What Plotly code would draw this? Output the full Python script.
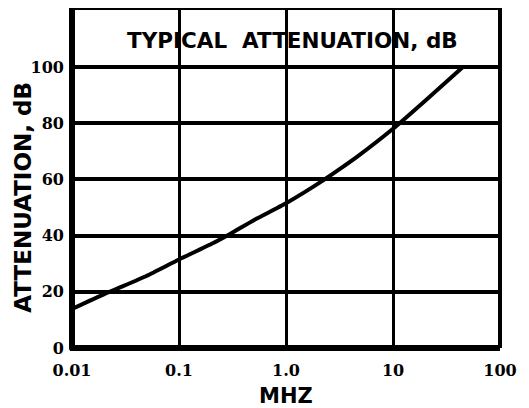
import plotly.graph_objects as go

# Data
freq_mhz = [0.01, 0.02, 0.03, 0.05, 0.1, 0.2, 0.3, 0.5, 1.0, 2.3, 3.0, 4.6, 10.0, 20.0, 45.0]
atten_db = [13.9, 19.2, 22.0, 25.7, 31.5, 37.0, 40.6, 45.5, 51.5, 60.0, 63.0, 68.0, 78.0, 88.0, 100.0]

x_tickvals = [0.01, 0.1, 1.0, 10, 100]
x_ticktext = ["0.01", "0.1", "1.0", "10", "100"]
y_tickvals = [0, 20, 40, 60, 80, 100]
y_ticktext = ["0", "20", "40", "60", "80", "100"]

title_text = "TYPICAL&nbsp;&nbsp;ATTENUATION, dB"
y_title = "ATTENUATION, dB"
x_title = "MHZ"

YMAX = 121

fig = go.Figure()
fig.add_trace(go.Scatter(
    x=freq_mhz, y=atten_db, mode="lines",
    line=dict(color="black", width=4, shape="spline", smoothing=0.5),
    showlegend=False, hoverinfo="skip",
))

tickfont = dict(family="DejaVu Serif", size=16, color="black", weight="bold")

# The page body adds an 8px margin, so the figure is sized to fit the window
fig.update_layout(
    width=521, height=400,
    margin=dict(l=64, r=29, t=0, b=60),
    paper_bgcolor="white", plot_bgcolor="white",
    xaxis=dict(
        type="log", range=[-2, 2],
        tickvals=x_tickvals, ticktext=x_ticktext,
        showgrid=True, gridcolor="black", gridwidth=3,
        zeroline=False, showline=False, ticks="",
        tickfont=tickfont, ticklabelstandoff=11,
    ),
    yaxis=dict(
        range=[0, YMAX],
        tickvals=y_tickvals, ticktext=y_ticktext,
        showgrid=True, gridcolor="black", gridwidth=4,
        zeroline=False, showline=False, ticks="",
        tickfont=tickfont, ticklabelstandoff=7,
    ),
)

# White band hiding the vertical grid behind the title
fig.add_shape(type="rect", xref="paper", yref="y", x0=0.0, x1=1.0, y0=103.5, y1=115,
              fillcolor="white", line=dict(width=0), layer="below")

# Frame
fig.add_shape(type="line", xref="paper", yref="paper", x0=0, x1=0, y0=-0.005, y1=1.0,
              line=dict(color="black", width=6))
fig.add_shape(type="line", xref="paper", yref="paper", x0=-0.005, x1=1.0, y0=0, y1=0,
              line=dict(color="black", width=6))
fig.add_shape(type="line", xref="paper", yref="paper", x0=0, x1=1.0, y0=1, y1=1,
              line=dict(color="black", width=4))
fig.add_shape(type="line", xref="paper", yref="paper", x0=1, x1=1, y0=0, y1=1.0,
              line=dict(color="black", width=4))

# Title inside the plot
fig.add_annotation(text=title_text, xref="paper", yref="y", x=0.516, y=109.6,
                   showarrow=False, xanchor="center", yanchor="middle",
                   font=dict(family="DejaVu Sans", size=21.5, color="black", weight="bold"))

# Axis titles
fig.add_annotation(text=y_title, xref="paper", yref="paper", x=-0.1145, y=0.445,
                   textangle=-90, showarrow=False, xanchor="center", yanchor="middle",
                   font=dict(family="DejaVu Sans", size=23, color="black", weight="bold"))
fig.add_annotation(text=x_title, xref="paper", yref="paper", x=0.50, y=-0.14,
                   showarrow=False, xanchor="center", yanchor="middle",
                   font=dict(family="DejaVu Sans", size=21, color="black", weight="bold"))

fig.write_html("out.html")
